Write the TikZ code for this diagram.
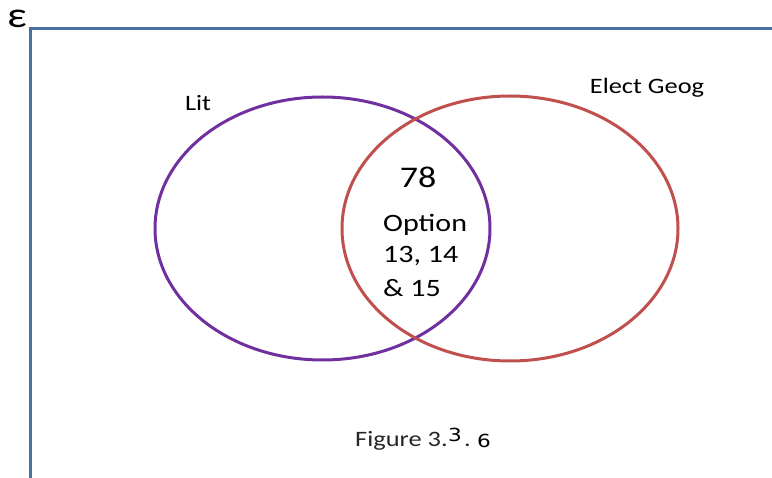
\documentclass[tikz,border=0pt]{standalone}
\usepackage{fontspec}
\setmainfont{Carlito}
\newfontfamily\altfont{DejaVu Sans}
\definecolor{framebl}{HTML}{4A6FA5}
\definecolor{litpurple}{HTML}{7030A0}
\definecolor{geogred}{HTML}{C0504D}
\definecolor{txtgray}{HTML}{262626}
\begin{document}
\begin{tikzpicture}[x=1pt,y=-1pt,
  lbl/.style={inner sep=0pt, xscale=1.2, text=black},
  setline/.style={line width=3pt}]
\useasboundingbox (0,0) rectangle (772,478);
% universal set frame
\coordinate (fTL) at (30,29);
\coordinate (fTR) at (772,29);
\coordinate (fBL) at (30,478);
\draw[framebl, line width=3pt] (fTR) -- (fTL) -- (fBL);
\node[lbl, anchor=base west, font=\fontsize{36}{38}\selectfont] (eps) at (7,28) {ε};
% the two sets
\draw[setline, litpurple] (322.5,228.5) ellipse [x radius=167.5, y radius=131.5];
\draw[setline, geogred] (510,228.5) ellipse [x radius=168, y radius=132.5];
\node[lbl, anchor=base, font=\fontsize{22}{24}\selectfont] (lit) at (198,111) {Lit};
\node[lbl, anchor=base, font=\fontsize{22}{24}\selectfont] (geog) at (647,93.3) {Elect Geog};
% intersection contents
\node[lbl, anchor=base, font=\fontsize{30}{32}\selectfont] (n78) at (418,188) {78};
\node[lbl, anchor=base west, font=\fontsize{25}{27}\selectfont] (opt) at (383,231.7) {Option};
\node[lbl, anchor=base west, font=\fontsize{25}{27}\selectfont] (opt2) at (383,263) {13, 14};
\node[lbl, anchor=base west, font=\fontsize{25}{27}\selectfont] (opt3) at (383,296.7) {\&\ 15};
% caption
\node[lbl, anchor=base west, text=txtgray, font=\fontsize{22}{24}\selectfont] (fig) at (355,446.7) {Figure 3.};
\node[lbl, anchor=base west, font=\altfont\fontsize{18}{20}\selectfont] (fig3) at (448,441.5) {3};
\node[lbl, anchor=base west, text=txtgray, font=\fontsize{22}{24}\selectfont] (figdot) at (464,446.7) {.};
\node[lbl, anchor=base west, font=\altfont\fontsize{18}{20}\selectfont] (fig6) at (477,448) {6};
\end{tikzpicture}
\end{document}
